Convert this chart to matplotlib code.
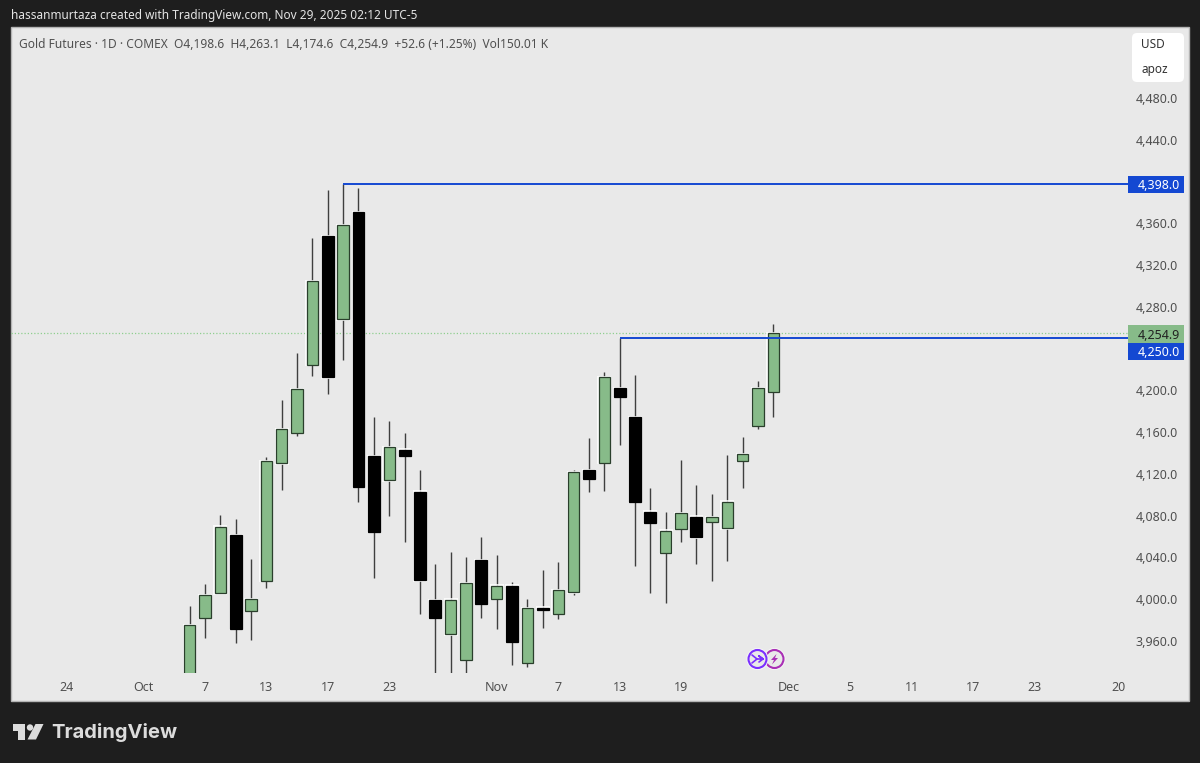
#!/usr/bin/env python
# coding: utf-8

import numpy as np
import matplotlib
matplotlib.use('Agg')
import matplotlib.pyplot as plt
from matplotlib.patches import Rectangle, FancyBboxPatch, Circle, Polygon

plt.rcParams['font.family'] = ['Noto Sans', 'DejaVu Sans']

# daily candles (first and some lows run below the pane)
opens = [3925, 3982.3, 4005.7, 4061.2, 3989, 4017.7, 4130.2, 4159.5, 4224.6, 4347.8,
         4268.1, 4370.5, 4136.9, 4113.9, 4143.2, 4103, 3999, 3966.4, 3942.2, 4037.5,
         4000.2, 4012.9, 3938.9, 3991.9, 3986.1, 4006.6, 4123.5, 4130.7, 4202, 4174.5,
         4083.8, 4044.5, 4067.2, 4079, 4074.2, 4067.9, 4132.4, 4166.2, 4198.6]
highs = [3993.5, 4014.3, 4080.4, 4076.8, 4038.2, 4136.5, 4190.8, 4235.5, 4346.2, 4391.9,
         4398, 4393.5, 4174.8, 4170.7, 4158.9, 4123.5, 4033.4, 4045.5, 4040.7, 4059.6,
         4042.3, 4016.8, 3999.9, 4028, 4035.3, 4123.7, 4154.4, 4217.9, 4250, 4214.7,
         4106.8, 4083.5, 4133.6, 4109.4, 4100.8, 4137.8, 4155.6, 4208.7, 4263.1]
lows = [3905, 3963.1, 4005.7, 3957.8, 3960.9, 4011, 4104.6, 4156.6, 4214, 4196.2,
        4229.1, 4093.1, 4020.6, 4079.7, 4055.1, 3986.1, 3925, 3925, 3925, 3982.3,
        3971.2, 3937, 3935.4, 3972.7, 3981.3, 4004, 4102.4, 4103.6, 4148, 4032.1,
        4006.2, 3996.7, 4055.1, 4034, 4017.4, 4036.3, 4106.2, 4163, 4174.6]
closes = [3975.3, 4003.7, 4069.4, 3971.5, 3999.9, 4132.1, 4162.7, 4201.3, 4304.5, 4212.5,
          4358.4, 4107.7, 4064.7, 4145.5, 4137.1, 4018.1, 3982, 3999.5, 4015.2, 3995.4,
          4012.9, 3959.3, 3991.6, 3990, 4008.8, 4121.5, 4115.1, 4212.8, 4193.9, 4093.1,
          4073.3, 4065.6, 4082.3, 4059.3, 4078.4, 4093.4, 4138.8, 4202, 4254.9]

level_high = 4398.0
level_low = 4250.0
level_high_start = 10
level_low_start = 28
last_price = 4254.9

price_ticks = [3960, 4000, 4040, 4080, 4120, 4160, 4200, 4280, 4320, 4360, 4440, 4480]
date_ticks = [-8, -3, 1, 5, 9, 13, 20, 24, 28, 32, 39, 43, 47, 51, 55, 60.5]
date_labels = ['24', 'Oct', '7', '13', '17', '23', 'Nov', '7', '13', '19', 'Dec', '5', '11', '17', '23', '20']

UP = '#87bb89'
EDGE_UP = '#2a3f2c'
DOWN = '#000000'
PANE = '#e9e9e9'
DARK = '#1e1e1e'
BLUE = '#1448d2'
TEXT = '#505050'

W, H = 1200, 763
fig = plt.figure(figsize=(12, 7.63), dpi=100, facecolor=DARK)

# whole picture in pixels, for the frame around the chart
bg = fig.add_axes([0, 0, 1, 1], zorder=0)
bg.set_xlim(0, W)
bg.set_ylim(H, 0)
bg.axis('off')
bg.add_patch(Rectangle((11, 27), 1178, 674, fc=PANE, ec='#b4b4b4', lw=1))

bg.text(11, 16, 'hassanmurtaza created with TradingView.com, Nov 29, 2025 02:12 UTC-5',
        color='#e4e4e4', fontsize=8.5, va='center')
bg.text(19, 44.5, 'Gold Futures · 1D · COMEX  O4,198.6  H4,263.1  L4,174.6  C4,254.9  +52.6 (+1.25%)  Vol150.01 K',
        color=TEXT, fontsize=8.62, va='center')

bg.add_patch(FancyBboxPatch((1135, 36), 46, 43, boxstyle='round,pad=3,rounding_size=5', fc='white', ec='none'))
bg.text(1141, 44.5, 'USD', color='#333333', fontsize=8.5, va='center')
bg.text(1141, 69, 'apoz', color='#333333', fontsize=8.5, va='center')

# price tags on the scale
for y0, y1, col, tcol, s in [(176, 192.5, BLUE, 'white', '4,398.0'),
                             (325, 342.5, UP, '#222222', '4,254.9'),
                             (343, 360, BLUE, 'white', '4,250.0')]:
    bg.add_patch(Rectangle((1128, y0), 56, y1 - y0, fc=col, ec='none'))
    bg.text(1180, (y0 + y1) / 2, s, color=tcol, fontsize=9, weight='medium', va='center_baseline', ha='right')

# TradingView logo
LOGO = '#dcdcdc'
bg.add_patch(Polygon([(13, 724), (25, 724), (25, 739.5), (18, 739.5), (18, 731), (13, 731)], fc=LOGO, ec='none'))
bg.add_patch(Circle((30, 727.5), 3.2, fc=LOGO, ec='none'))
bg.add_patch(Polygon([(35.5, 724), (43.5, 724), (36, 739.5), (27.5, 739.5)], fc=LOGO, ec='none'))
bg.text(51, 732, 'TradingView', color=LOGO, fontsize=14.5, family='Inter', weight='bold', va='center')

# the two small event icons under the last candles
for cx, col in [(774.5, '#a92fb5'), (757.5, '#7b2fff')]:
    bg.add_patch(Circle((cx, 659), 11, fc='#f6f6f6', ec='none'))
    bg.add_patch(Circle((cx, 659), 9, fc=PANE, ec=col, lw=1.5))
bg.plot([752, 757, 752], [655, 659, 663], color='#7b2fff', lw=1.2, solid_capstyle='round')
bg.plot([757, 763, 759, 763, 759], [659, 659, 656, 659, 662], color='#7b2fff', lw=1.2, solid_capstyle='round')
bg.add_patch(Polygon([(776.5, 654), (771, 660), (774, 660), (772, 664.5), (778, 658), (775, 658)], fc='#a92fb5', ec='none'))

# the chart itself, same pixel scale as the picture
ax = fig.add_axes([11 / W, 1 - 673 / H, (1128 - 11) / W, (673 - 27) / H], zorder=1)
ax.patch.set_visible(False)
step = 15.363
x0 = 189.5
px_per_price = 1.0442
ax.set_xlim((11 - x0) / step, (1128 - x0) / step)
ax.set_ylim(4480 - (673 - 98) / px_per_price, 4480 - (27 - 98) / px_per_price)
for s in ax.spines.values():
    s.set_visible(False)

o = np.array(opens)
c = np.array(closes)
hi = np.array(highs)
lo = np.array(lows)
x = np.arange(len(o))
up = c >= o

ax.axhline(last_price, color='#8fcf8f', lw=0.9, ls=(0, (1, 1.6)), zorder=1)
ax.vlines(x, lo, hi, color='#3f3f3f', lw=1.0, zorder=2)

top = np.maximum(o, c)
bot = np.minimum(o, c)
# pale halo round each body, then the body
ax.bar(x, top - bot + 2.6, 0.9, bottom=bot - 1.3, color='#ffffff', alpha=0.8, zorder=3)
ax.bar(x[up], (top - bot)[up], 0.74, bottom=bot[up], color=UP, edgecolor=EDGE_UP, lw=0.9, zorder=4)
ax.bar(x[~up], (top - bot)[~up], 0.78, bottom=bot[~up], color=DOWN, edgecolor=DOWN, lw=0.9, zorder=4)

right = ax.get_xlim()[1]
ax.hlines([level_high, level_low], [level_high_start, level_low_start], right, color=BLUE, lw=1.4, zorder=5)

ax.yaxis.tick_right()
ax.set_yticks(price_ticks)
ax.set_yticklabels([f'{p:,.1f}' for p in price_ticks])
ax.set_xticks(date_ticks)
ax.set_xticklabels(date_labels)
ax.tick_params(axis='y', length=0, pad=5.5, labelsize=9, labelcolor=TEXT)
ax.tick_params(axis='x', length=0, pad=6, labelsize=9, labelcolor=TEXT)

plt.savefig('out.png', dpi=100, facecolor=DARK)
